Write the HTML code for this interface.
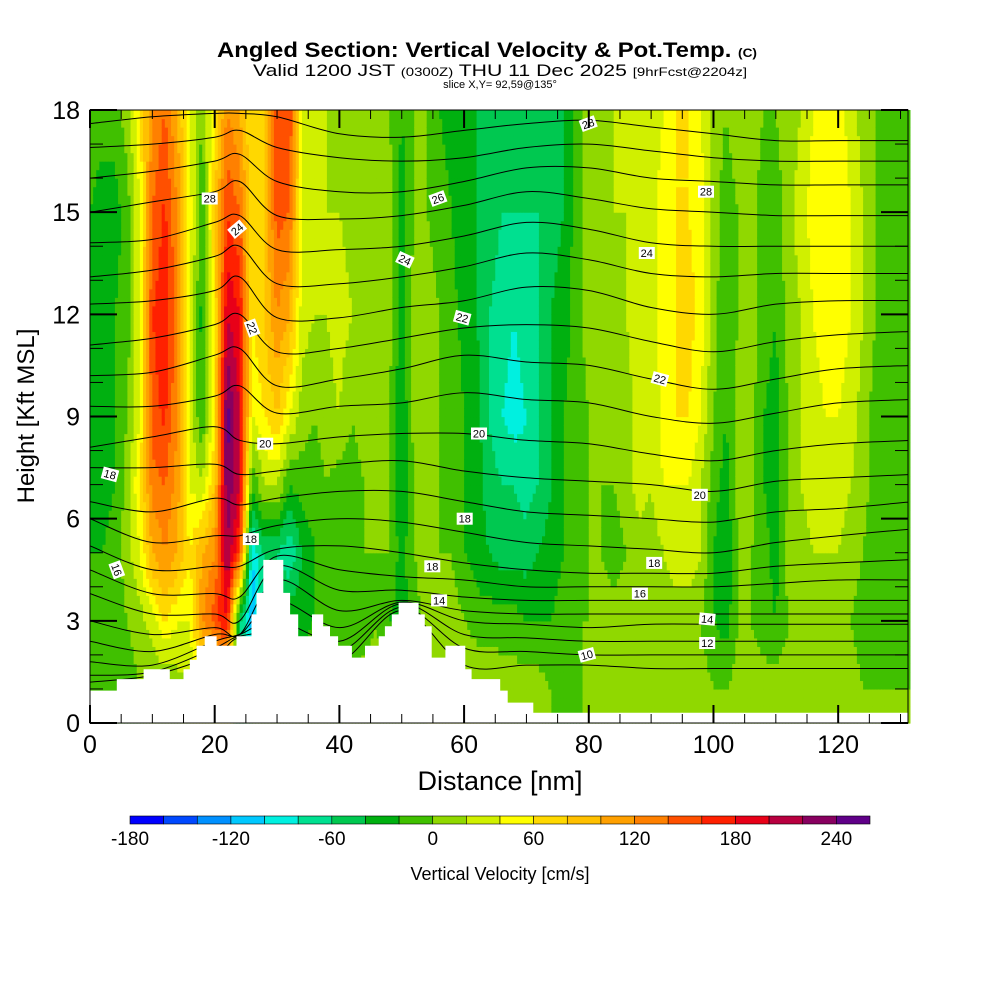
<!DOCTYPE html>
<html><head><meta charset="utf-8">
<style>
html,body{margin:0;padding:0;background:#fff;}
svg{display:block;font-family:"Liberation Sans",Arial,sans-serif;}
</style></head>
<body>
<svg id="chart" width="1000" height="1000" viewBox="0 0 1000 1000" xmlns="http://www.w3.org/2000/svg">
  <g>
    <text x="217" y="57" textLength="540" lengthAdjust="spacingAndGlyphs" font-size="21" font-weight="bold">Angled Section: Vertical Velocity &amp; Pot.Temp. <tspan font-size="12">(C)</tspan></text>
    <text x="253" y="76" textLength="494" lengthAdjust="spacingAndGlyphs" font-size="17">Valid 1200 JST <tspan font-size="12">(0300Z)</tspan> THU 11 Dec 2025 <tspan font-size="12">[9hrFcst@2204z]</tspan></text>
    <text x="500" y="88" text-anchor="middle" font-size="11">slice X,Y= 92,59@135°</text>
  </g>
  <g id="field"></g>
  <g id="contours"></g>
  <g id="terrain"></g>
  <g id="labels"></g>
  <g id="axes"></g>
  <text x="500" y="790" text-anchor="middle" font-size="27">Distance [nm]</text>
  <text transform="translate(34,416) rotate(-90)" text-anchor="middle" font-size="24">Height [Kft MSL]</text>
  <g id="colorbar"></g>
  <text x="500" y="880" text-anchor="middle" font-size="18">Vertical Velocity [cm/s]</text>
</svg>
<script>
// ---- data ----
const gridX = [0,2,4,6,8,10,12,14,16,18,20,22,24,26,28,30,32,34,36,38,40,42,44,46,48,50,52,54,56,58,60,62,64,66,68,70,72,74,76,78,80,82,84,86,88,90,92,94,96,98,100,102,104,106,108,110,112,114,116,118,120,122,124,126,128,130,132];
const gridH = [1,3,5,7,9,12,15,18];
const velocity = [
[-10,-10,-20,-30,-20,-30,-20,-10],
[-10,-20,-20,-30,-30,-30,-30,-10],
[-10,-10,-10,-20,-20,-20,-30,-10],
[-10,0,10,10,0,-10,-10,10],
[0,10,40,60,40,40,40,60],
[0,30,100,130,150,160,140,120],
[0,60,120,140,165,175,165,140],
[10,40,100,110,120,130,120,100],
[20,40,60,40,30,40,50,40],
[20,120,100,20,-20,-30,-20,0],
[40,150,120,80,60,60,80,60],
[60,180,220,240,250,200,160,120],
[-40,-60,160,200,200,180,140,100],
[0,-120,-100,-20,40,60,60,60],
[0,-60,-60,20,60,80,80,80],
[0,-40,-60,20,80,120,150,160],
[0,-20,-80,-20,40,100,140,160],
[0,-30,-40,-10,10,30,40,40],
[10,-20,-20,-10,0,20,30,30],
[10,-10,-10,0,10,20,20,20],
[0,-20,-10,-10,20,30,20,10],
[0,-10,0,-10,0,20,10,10],
[10,-10,0,0,10,20,20,10],
[10,0,0,0,10,10,10,10],
[0,-20,0,0,0,10,10,0],
[0,-30,-30,-40,-40,-30,-30,-20],
[10,-10,0,0,10,10,0,0],
[20,10,10,10,10,10,0,0],
[20,10,0,0,0,0,-10,-20],
[20,10,0,-10,0,-10,-20,-30],
[20,0,-20,-20,-20,-30,-40,-40],
[20,-10,-30,-30,-30,-40,-40,-40],
[20,-10,-40,-50,-60,-60,-50,-40],
[10,-10,-50,-60,-80,-70,-60,-50],
[10,-10,-50,-60,-90,-80,-60,-50],
[10,-20,-50,-70,-80,-70,-60,-40],
[10,-20,-40,-60,-60,-60,-60,-50],
[0,-20,-30,-40,-40,-40,-50,-60],
[-10,-10,-20,-20,-20,-30,-40,-40],
[-10,0,-10,-10,-10,-10,-10,-10],
[10,0,0,0,0,10,10,10],
[10,10,0,0,10,10,20,10],
[10,10,-10,0,0,10,20,20],
[10,10,0,10,10,20,20,20],
[10,10,10,30,30,30,30,30],
[10,0,10,20,20,30,30,30],
[10,0,20,40,50,50,50,40],
[10,10,30,40,60,60,60,60],
[10,10,30,40,60,70,60,60],
[10,0,20,20,40,50,50,40],
[0,-20,-20,-10,0,10,10,10],
[0,-30,-40,-30,-20,-20,-10,0],
[10,0,0,10,10,0,0,10],
[10,0,0,10,10,10,10,10],
[10,-10,-10,-20,-20,-10,-10,0],
[10,-20,-30,-30,-30,-20,-10,0],
[10,0,10,0,0,10,10,10],
[10,10,10,20,20,20,30,20],
[10,10,20,30,30,40,50,40],
[10,10,20,30,40,50,60,50],
[10,10,20,30,40,50,60,50],
[10,0,10,20,30,40,40,30],
[0,-10,0,10,10,20,20,10],
[0,-20,-20,-10,-10,0,0,0],
[0,-20,-20,-20,-20,-10,-10,-10],
[0,-10,-10,-10,-10,-10,-10,-10],
[0,-10,-10,-10,-10,-10,-10,-10]
];
const levels = [-180,-160,-140,-120,-100,-80,-60,-40,-20,0,20,40,60,80,100,120,140,160,180,200,220,240,260];
const levelColors = ["#0000ff","#0048ff","#0090ff","#00c8ff","#00f0e0","#00e090","#00c850","#00b010","#40c000","#90d800","#d0f000","#ffff00","#ffd800","#ffc000","#ffa000","#ff8000","#ff5000","#ff2000","#e80018","#b80040","#880060","#600088"];
const cbTicks = [-180,-120,-60,0,60,120,180,240];
const terrainX = [0,4.3,8.6,12.8,15,16,17.1,18.4,20.3,23.5,25.9,26.7,27.8,31,32.1,33.4,35.6,37.4,38.5,39.8,42,44.1,46.3,47.3,48.4,49.5,52.7,53.7,54.8,57,60.2,61.2,65.8,67,71.1,132];
const terrainH = [0.95,1.29,1.58,1.29,1.58,1.86,2.27,2.55,2.27,2.55,3.19,3.82,4.79,3.82,3.19,2.55,3.19,2.84,2.55,2.27,1.92,2.27,2.55,2.84,3.19,3.53,3.19,2.84,1.92,2.27,1.58,1.29,0.95,0.6,0.3,0.3];
const contourX = [0,10,20,24,30,40,50,60,70,80,90,100,110,120,132];
const contourH = [
[17.6,17.8,17.9,17.9,17.8,17.3,17.2,17.4,17.6,17.7,17.5,17.3,17.1,17.1,17.1],
[16.9,17.0,17.2,17.4,16.9,16.6,16.5,16.6,16.9,17.0,16.8,16.6,16.5,16.5,16.5],
[16.0,16.2,16.5,16.7,15.9,15.6,15.6,15.9,16.3,16.3,16.0,15.9,15.8,15.8,15.8],
[15.0,15.3,15.6,15.9,14.9,14.8,14.9,15.2,15.6,15.4,15.1,15.0,14.9,14.9,14.9],
[14.1,14.2,14.7,14.9,13.9,13.9,14.0,14.3,14.7,14.5,14.1,14.0,14.0,14.0,14.0],
[13.1,13.3,13.7,14.0,12.9,12.9,13.1,13.4,13.8,13.6,13.2,13.1,13.2,13.2,13.2],
[12.3,12.4,12.7,13.1,11.9,11.9,12.2,12.4,12.8,12.7,12.2,12.0,12.3,12.4,12.4],
[11.1,11.3,11.7,12.0,10.9,11.0,11.3,11.6,11.7,11.6,11.2,10.9,11.2,11.4,11.5],
[10.2,10.3,10.8,11.0,9.9,10.1,10.4,10.8,10.6,10.5,10.1,9.8,10.1,10.4,10.5],
[9.3,9.3,9.6,9.9,9.1,9.3,9.4,9.7,9.5,9.4,9.0,8.8,9.1,9.4,9.5],
[8.1,8.4,8.7,8.3,8.2,8.4,8.5,8.5,8.3,8.2,7.9,7.7,8.0,8.2,8.3],
[7.5,7.5,7.6,7.3,7.4,7.6,7.7,7.4,7.2,7.1,7.0,6.8,7.1,7.2,7.3],
[6.5,6.2,6.6,6.4,6.6,6.8,6.8,6.5,6.2,6.1,6.0,5.9,6.2,6.3,6.5],
[6.0,5.3,5.5,5.5,5.8,6.0,5.9,5.6,5.3,5.2,5.1,5.0,5.3,5.5,5.7],
[5.2,4.5,4.6,4.6,5.1,5.2,5.0,4.7,4.5,4.4,4.4,4.4,4.6,4.7,4.8],
[4.5,3.8,3.8,3.7,4.9,4.5,4.3,4.2,4.0,4.0,4.0,4.0,4.1,4.2,4.2],
[3.8,3.2,3.2,3.0,4.6,3.9,3.9,3.7,3.6,3.6,3.6,3.6,3.6,3.6,3.6],
[3.0,2.6,2.8,2.6,4.2,3.3,3.6,3.3,3.2,3.2,3.2,3.2,3.2,3.2,3.2],
[2.4,2.1,2.6,2.6,3.6,2.8,3.55,3.0,2.9,2.8,2.9,2.9,2.9,2.9,2.9],
[1.8,1.7,2.4,2.6,3.0,2.4,3.5,2.6,2.5,2.4,2.4,2.4,2.4,2.4,2.4],
[1.4,1.5,2.2,2.55,2.6,2.1,3.4,2.2,2.1,2.0,2.0,2.0,2.0,2.0,2.0],
[1.2,1.4,2.0,2.5,2.2,1.8,3.3,1.7,1.7,1.7,1.6,1.6,1.6,1.6,1.6]
];
const labelText = ["28","24","22","20","18","16","18","26","24","22","20","18","18","14","28","28","24","22","20","18","16","14","12","10"];
const labelX = [19.2,23.6,26,28.1,3.2,4.3,25.8,55.8,50.5,59.7,62.4,60.1,54.9,56,79.9,98.8,89.3,91.4,97.8,90.5,88.2,99,99,79.7];
const labelY = [15.4,14.5,11.6,8.2,7.3,4.5,5.4,15.4,13.6,11.9,8.5,6.0,4.6,3.6,17.6,15.6,13.8,10.1,6.7,4.7,3.8,3.05,2.35,2.0];
const labelRot = [0,-40,70,0,15,70,0,-20,25,15,0,0,0,0,-20,0,0,15,0,0,0,5,0,-15];
const xTicks = [0,20,40,60,80,100,120];
const yTicks = [0,3,6,9,12,15,18];

// ---- axes ----
const PX0=90, PX1=908, PY0=110, PY1=723, XMAX=131.2, YMAX=18;
const sx = v => PX0 + v/XMAX*(PX1-PX0);
const sy = v => PY1 - v/YMAX*(PY1-PY0);
const NS='http://www.w3.org/2000/svg';
function mk(tag, attrs, parent){const e=document.createElementNS(NS,tag);for(const k in attrs)e.setAttribute(k,attrs[k]);parent.appendChild(e);return e;}
function colorFor(v){let i=0;while(i<levels.length-2 && v>=levels[i+1])i++;return levelColors[i];}
function sample(x,h){
  let i=0;while(i<gridX.length-2 && x>gridX[i+1])i++;
  const tx=Math.min(1,Math.max(0,(x-gridX[i])/(gridX[i+1]-gridX[i])));
  let hh=Math.min(Math.max(h,gridH[0]),gridH[gridH.length-1]);
  let j=0;while(j<gridH.length-2 && hh>gridH[j+1])j++;
  const ty=(hh-gridH[j])/(gridH[j+1]-gridH[j]);
  const a=velocity[i][j]*(1-tx)+velocity[i+1][j]*tx;
  const b=velocity[i][j+1]*(1-tx)+velocity[i+1][j+1]*tx;
  return a*(1-ty)+b*ty;
}
const field=document.getElementById('field');
const dx=0.5, dh=0.25;
for(let x=0;x<XMAX;x+=dx){
  for(let h=0;h<YMAX;h+=dh){
    const v=sample(x+dx/2,h+dh/2);
    const r=mk('rect',{x:sx(x).toFixed(2),y:sy(h+dh).toFixed(2),width:(sx(x+dx)-sx(x)+0.6).toFixed(2),height:(sy(h)-sy(h+dh)+0.6).toFixed(2),fill:colorFor(v)},field);
    
    
  }
}
const cg=document.getElementById('contours');
const clip=mk('clipPath',{id:'plotclip'},cg);
mk('rect',{x:PX0,y:PY0,width:PX1-PX0,height:PY1-PY0},clip);
contourH.forEach((line,k)=>{
  const pts=contourX.map((x,i)=>[sx(x),sy(line[i])]);
  let d='M'+pts[0][0].toFixed(1)+','+pts[0][1].toFixed(1);
  for(let i=0;i<pts.length-1;i++){
    const p0=pts[Math.max(0,i-1)],p1=pts[i],p2=pts[i+1],p3=pts[Math.min(pts.length-1,i+2)];
    const c1=[p1[0]+(p2[0]-p0[0])/6,p1[1]+(p2[1]-p0[1])/6];
    const c2=[p2[0]-(p3[0]-p1[0])/6,p2[1]-(p3[1]-p1[1])/6];
    d+=' C'+c1[0].toFixed(1)+','+c1[1].toFixed(1)+' '+c2[0].toFixed(1)+','+c2[1].toFixed(1)+' '+p2[0].toFixed(1)+','+p2[1].toFixed(1);
  }
  const p=mk('path',{d:d,fill:'none',stroke:'#000','stroke-width':1,'clip-path':'url(#plotclip)'},cg);
  
  
});
const tg=document.getElementById('terrain');
let td='M'+sx(0)+','+sy(0);
for(let i=0;i<terrainX.length;i++){
  const xn = i<terrainX.length-1 ? terrainX[i+1] : XMAX;
  td+=' L'+sx(terrainX[i]).toFixed(1)+','+sy(terrainH[i]).toFixed(1)+' L'+sx(Math.min(xn,XMAX)).toFixed(1)+','+sy(terrainH[i]).toFixed(1);
}
td+=' L'+sx(XMAX)+','+sy(0)+' Z';
const tp=mk('path',{d:td,fill:'#fff',stroke:'none'},tg);


const lg=document.getElementById('labels');
labelText.forEach((t,i)=>{
  const g=mk('g',{transform:'translate('+sx(labelX[i]).toFixed(1)+','+sy(labelY[i]).toFixed(1)+') rotate('+labelRot[i]+')'},lg);
  
  
  mk('rect',{x:-8,y:-6,width:16,height:12,fill:'#fff'},g);
  const tx=mk('text',{x:0,y:4,'text-anchor':'middle','font-size':11},g);
  tx.textContent=t;
});
const ag=document.getElementById('axes');
for(let v=0;v<=XMAX;v+=5){
  const major=v%20===0, L=major?18:9;
  const t1=mk('line',{x1:sx(v),x2:sx(v),y1:PY1,y2:PY1-L,stroke:'#000','stroke-width':major?2:1},ag);
  
  
  const t2=mk('line',{x1:sx(v),x2:sx(v),y1:PY0,y2:PY0+L,stroke:'#000','stroke-width':major?2:1},ag);
  
  
}
for(let v=0;v<=YMAX;v+=1){
  const major=v%3===0, L=major?27:13;
  const t1=mk('line',{x1:PX0,x2:PX0+L,y1:sy(v),y2:sy(v),stroke:'#000','stroke-width':major?2:1},ag);
  
  
  const t2=mk('line',{x1:PX1,x2:PX1-L,y1:sy(v),y2:sy(v),stroke:'#000','stroke-width':major?2:1},ag);
  
  
}
const fr=mk('rect',{x:PX0,y:PY0,width:PX1-PX0,height:PY1-PY0,fill:'none',stroke:'#000','stroke-width':1},ag);


xTicks.forEach(v=>{
  const t=mk('text',{x:sx(v),y:753,'text-anchor':'middle','font-size':25},ag);
  
  
  t.textContent=v;
});
yTicks.forEach(v=>{
  const t=mk('text',{x:80,y:sy(v)+9,'text-anchor':'end','font-size':25},ag);
  
  
  t.textContent=v;
});
const cb=document.getElementById('colorbar');
const CB0=130, CB1=870, nb=levelColors.length, bw=(CB1-CB0)/nb;
const cbx = v => CB0 + (v-levels[0])/20*bw;
levelColors.forEach((c,i)=>{
  const r=mk('rect',{x:(CB0+i*bw).toFixed(2),y:816,width:bw.toFixed(2),height:8,fill:c,stroke:'#000','stroke-width':0.6},cb);
  
  
});
cbTicks.forEach(v=>{
  const t=mk('text',{x:cbx(v),y:845,'text-anchor':'middle','font-size':19},cb);
  
  
  t.textContent=v;
});
</script>
</body></html>
